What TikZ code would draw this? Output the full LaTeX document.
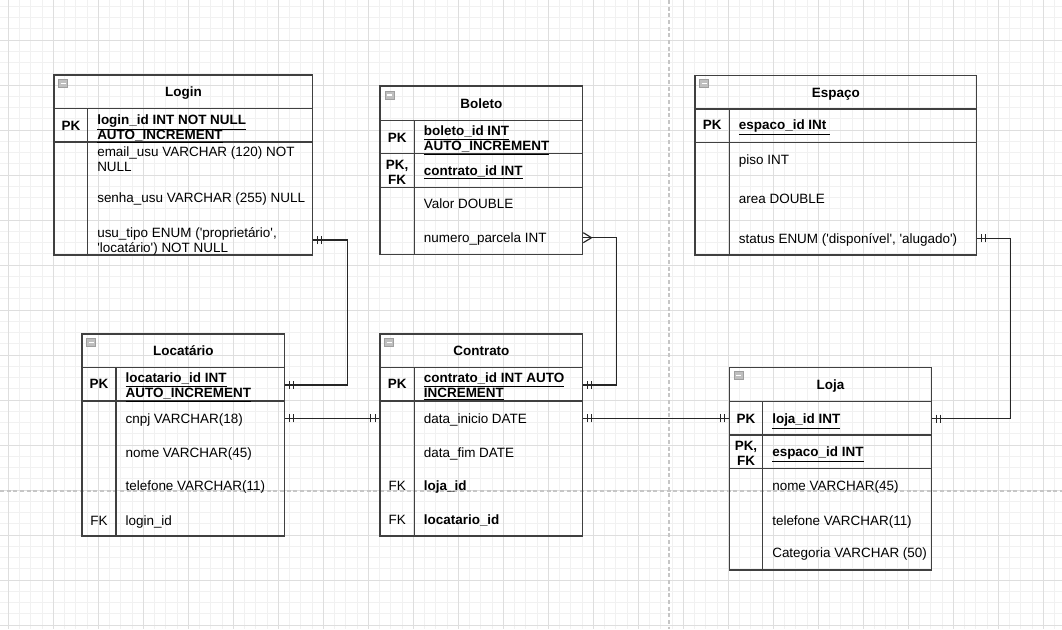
\documentclass[tikz,border=0pt]{standalone}
\usepackage{fontspec}
\setmainfont{Liberation Sans}
\usetikzlibrary{fit,decorations.markings}
\newcommand\fsz{\fontsize{10.1pt}{11.25pt}\selectfont}
\newcommand\q{\textquotesingle}
\tikzset{
  every node/.style={font=\fsz, inner sep=0pt},
  tbl/.style={draw=black!75, line width=0.85pt},
  title/.style={font=\fsz\bfseries, text height=7.3pt, text depth=0pt},
  key/.style={font=\fsz\bfseries, text height=7.3pt, text depth=0pt, align=center},
  fld/.style={anchor=west, text height=7.3pt, text depth=0pt, align=left},
  two/.style={text height=18.55pt},
  bold/.style={font=\fsz\bfseries},
  minorgrid/.style={draw=gray!11, line width=0.6pt},
  majorgrid/.style={draw=gray!26, line width=0.6pt},
  pagebreak/.style={draw=gray!45, line width=0.8pt, dash pattern=on 3pt off 2pt},
  link/.style={draw=black!85, line width=0.85pt, postaction={decorate}},
  bar/.style={draw=black!85, line width=0.85pt},
  one one/.style={decoration={markings,
    mark=at position 3pt with {\draw[bar] (0,-3pt) -- (0,3pt);},
    mark=at position 6.4pt with {\draw[bar] (0,-3pt) -- (0,3pt);},
    mark=at position -3pt with {\draw[bar] (0,-3pt) -- (0,3pt);},
    mark=at position -6.4pt with {\draw[bar] (0,-3pt) -- (0,3pt);}}},
  many one/.style={decoration={markings,
    mark=at position 6.2pt with {\draw[bar] (-6.2pt,3.75pt) -- (0,0) -- (-6.2pt,-3.75pt);},
    mark=at position -3pt with {\draw[bar] (0,-3pt) -- (0,3pt);},
    mark=at position -6.4pt with {\draw[bar] (0,-3pt) -- (0,3pt);}}},
  minusbox/.pic={
    \draw[fill=gray!50, draw=gray!75, line width=0.5pt] (0,0) rectangle (9,8);
    \draw[white, line width=1pt] (2,4) -- (7,4);
  }
}
\begin{document}
\begin{tikzpicture}[x=0.75pt, y=-0.75pt]
\useasboundingbox (0,0) rectangle (1062,629);
\fill[white] (0,0) rectangle (1062,629);

% background grid
\foreach \i in {0,...,95} \draw[minorgrid] ({-2.95+11.25*\i},0) -- ++(0,629);
\foreach \i in {0,...,56} \draw[minorgrid] (0,{-4.999+11.25*\i}) -- ++(1062,0);
\foreach \i in {0,...,23} \draw[majorgrid] ({8.3+45*\i},0) -- ++(0,629);
\foreach \i in {0,...,14} \draw[majorgrid] (0,{-5+45*\i}) -- ++(1062,0);
\draw[pagebreak] (669,0) -- (669,629) (0,491) -- (1062,491);

% Login
\node[tbl, fit={(54,75) (312.7,255)}] (login) {};
\draw[tbl] (54,108.7) -- (312.7,108.7) (54,142) -- (312.7,142) (87.7,108.7) -- (87.7,255);
\pic at ([shift={(5.3,5)}]login.north west) {minusbox};
\node[title] (login-t) at (183.4,92) {Login};
\node[key] at (70.9,125.5) {PK};
\node[fld, two, bold] (lg-pk) at (97,126.8) {\underline{login\_id INT NOT NULL}\\\underline{AUTO\_INCREMENT}};
\node[fld, two] (lg-email) at (97,159.5) {email\_usu VARCHAR (120) NOT\\NULL};
\node[fld] (lg-senha) at (97,197.7) {senha\_usu VARCHAR (255) NULL};
\node[fld, two] (lg-tipo) at (97,240) {usu\_tipo ENUM (\q propriet\'ario\q,\\\q locat\'ario\q) NOT NULL};

% Boleto
\node[tbl, fit={(380,86) (582.7,254.3)}] (boleto) {};
\draw[tbl] (380,120.3) -- (582.7,120.3) (380,153.7) -- (582.7,153.7) (380,187.3) -- (582.7,187.3) (414.3,120.3) -- (414.3,254.3);
\pic at ([shift={(5.5,5.5)}]boleto.north west) {minusbox};
\node[title] (boleto-t) at (481.4,103.2) {Boleto};
\node[key] at (397.2,137.3) {PK};
\node[fld, two, bold] (bl-pk) at (423.6,138.2) {\underline{boleto\_id INT}\\\underline{AUTO\_INCREMENT}};
\node[key, two] at (397.2,171.7) {PK,\\FK};
\node[fld, bold] (bl-ct) at (423.6,170.3) {\underline{contrato\_id INT}};
\node[fld] (bl-valor) at (423.6,204) {Valor DOUBLE};
\node[fld] (bl-parc) at (423.6,237.7) {numero\_parcela INT};

% Espaco
\node[tbl, fit={(695,75.3) (976.7,255)}] (espaco) {};
\draw[tbl] (695,109) -- (976.7,109) (695,142.3) -- (976.7,142.3) (729.3,109) -- (729.3,255);
\pic at ([shift={(5.3,5)}]espaco.north west) {minusbox};
\node[title] (espaco-t) at (835.9,92.2) {Espaço};
\node[key] at (712.2,125) {PK};
\node[fld, bold] (es-pk) at (738.6,125) {\underline{espaco\_id INt\ }};
\node[fld] (es-piso) at (738.6,159.3) {piso INT};
\node[fld] (es-area) at (738.6,198.3) {area DOUBLE};
\node[fld] (es-status) at (738.6,238.3) {status ENUM (\q dispon\'ivel\q, \q alugado\q)};

% Locatario
\node[tbl, fit={(82,334) (284.7,536)}] (locat) {};
\draw[tbl] (82,367.3) -- (284.7,367.3) (82,401) -- (284.7,401) (116,367.3) -- (116,536);
\pic at ([shift={(5.3,5)}]locat.north west) {minusbox};
\node[title] (locat-t) at (183.4,350.7) {Locatário};
\node[key] at (99,384) {PK};
\node[fld, two, bold] (lc-pk) at (125.3,385) {\underline{locatario\_id INT}\\\underline{AUTO\_INCREMENT}};
\node[fld] (lc-cnpj) at (125.3,418.3) {cnpj VARCHAR(18)};
\node[fld] (lc-nome) at (125.3,452.7) {nome VARCHAR(45)};
\node[fld] (lc-tel) at (125.3,486) {telefone VARCHAR(11)};
\node[key, font=\fsz] at (99,520.7) {FK};
\node[fld] (lc-login) at (125.3,520.7) {login\_id};

% Contrato
\node[tbl, fit={(380,334) (582.7,536)}] (contrato) {};
\draw[tbl] (380,367.3) -- (582.7,367.3) (380,401) -- (582.7,401) (414.3,367.3) -- (414.3,536);
\pic at ([shift={(5.3,5)}]contrato.north west) {minusbox};
\node[title] (contrato-t) at (481.4,350.7) {Contrato};
\node[key] at (397.2,384) {PK};
\node[fld, two, bold] (ct-pk) at (423.6,385) {\underline{contrato\_id INT AUTO}\\\underline{INCREMENT}};
\node[fld] (ct-ini) at (423.6,418.3) {data\_inicio DATE};
\node[fld] (ct-fim) at (423.6,452.7) {data\_fim DATE};
\node[key, font=\fsz] at (397.2,485.3) {FK};
\node[fld, bold] (ct-loja) at (423.6,485.3) {loja\_id};
\node[key, font=\fsz] at (397.2,519.3) {FK};
\node[fld, bold] (ct-loc) at (423.6,519.3) {locatario\_id};

% Loja
\node[tbl, fit={(729.3,367.3) (931.7,570)}] (loja) {};
\draw[tbl] (729.3,401.7) -- (931.7,401.7) (729.3,435) -- (931.7,435) (729.3,468.7) -- (931.7,468.7) (762.7,401.7) -- (762.7,570);
\pic at ([shift={(5.3,5)}]loja.north west) {minusbox};
\node[title] (loja-t) at (830.5,384.5) {Loja};
\node[key] at (746,418.7) {PK};
\node[fld, bold] (lj-pk) at (772,418.7) {\underline{loja\_id INT}};
\node[key, two] at (746,453.3) {PK,\\FK};
\node[fld, bold] (lj-esp) at (772,452) {\underline{espaco\_id INT}};
\node[fld] (lj-nome) at (772,485.7) {nome VARCHAR(45)};
\node[fld] (lj-tel) at (772,520.7) {telefone VARCHAR(11)};
\node[fld] (lj-cat) at (772,552.7) {Categoria VARCHAR (50)};

% relations
\draw[link, one one] (login.east |- lg-tipo) -- ++(34,0) |- (locat.east |- lc-pk);
\draw[link, one one] (locat.east |- lc-cnpj) -- (contrato.west |- lc-cnpj);
\draw[link, many one] (boleto.east |- bl-parc) -- ++(33.5,0) |- (contrato.east |- ct-pk);
\draw[link, one one] (contrato.east |- ct-ini) -- (loja.west |- ct-ini);
\draw[link, one one] (espaco.east |- es-status) -- ++(33.5,0) |- (loja.east |- lj-pk);
\end{tikzpicture}
\end{document}
